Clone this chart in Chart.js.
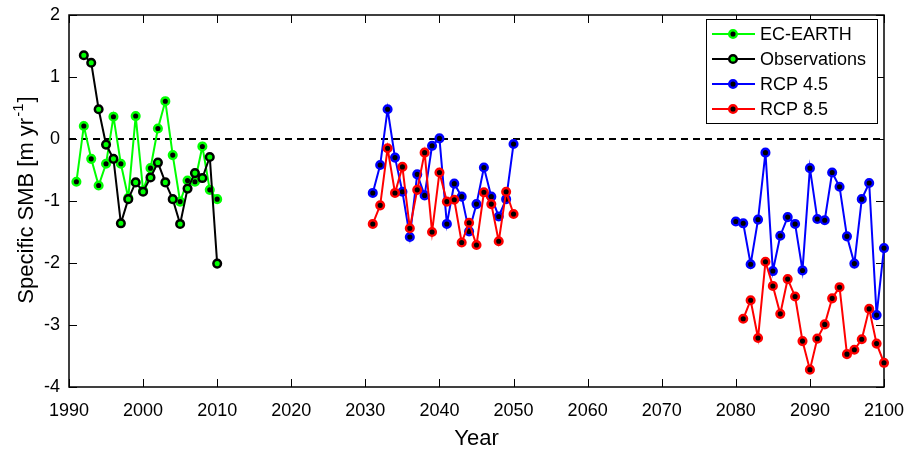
<!DOCTYPE html>
<html>
<head>
<meta charset="utf-8">
<script src="https://cdn.jsdelivr.net/npm/chart.js@4.4.1/dist/chart.umd.min.js"></script>
<style>
  html, body { margin: 0; padding: 0; background: #fff; }
  #wrap { width: 906px; height: 453px; }
</style>
</head>
<body>
<div id="wrap"><canvas id="c" width="906" height="453"></canvas></div>
<script>
// Specific surface mass balance, historical and projected
const histYears = [1991,1992,1993,1994,1995,1996,1997,1998,1999,2000,2001,2002,2003,2004,2005,2006,2007,2008,2009,2010];
const ecEarth = [-0.69,0.21,-0.32,-0.75,-0.40,0.36,-0.40,-0.95,0.37,-0.83,-0.47,0.17,0.61,-0.26,-1.01,-0.67,-0.69,-0.12,-0.82,-0.97];

const obsYears = [1992,1993,1994,1995,1996,1997,1998,1999,2000,2001,2002,2003,2004,2005,2006,2007,2008,2009,2010];
const observations = [1.35,1.23,0.48,-0.09,-0.32,-1.36,-0.97,-0.70,-0.85,-0.62,-0.38,-0.70,-0.97,-1.37,-0.80,-0.55,-0.63,-0.29,-2.01];

const midYears = [2031,2032,2033,2034,2035,2036,2037,2038,2039,2040,2041,2042,2043,2044,2045,2046,2047,2048,2049,2050];
const rcp45Mid = [-0.87,-0.42,0.48,-0.30,-0.85,-1.58,-0.57,-0.91,-0.11,0.01,-1.37,-0.72,-0.93,-1.49,-1.05,-0.46,-0.93,-1.25,-0.97,-0.08];
const rcp85Mid = [-1.37,-1.07,-0.15,-0.87,-0.45,-1.44,-0.82,-0.22,-1.50,-0.54,-1.01,-0.98,-1.67,-1.35,-1.71,-0.86,-1.05,-1.65,-0.85,-1.21];

const lateYears45 = [2080,2081,2082,2083,2084,2085,2086,2087,2088,2089,2090,2091,2092,2093,2094,2095,2096,2097,2098,2099,2100];
const rcp45Late = [-1.33,-1.36,-2.02,-1.30,-0.22,-2.13,-1.56,-1.26,-1.37,-2.12,-0.47,-1.29,-1.31,-0.54,-0.77,-1.57,-2.01,-0.97,-0.71,-2.84,-1.76];
const lateYears85 = [2081,2082,2083,2084,2085,2086,2087,2088,2089,2090,2091,2092,2093,2094,2095,2096,2097,2098,2099,2100];
const rcp85Late = [-2.90,-2.60,-3.21,-1.98,-2.37,-2.82,-2.26,-2.54,-3.26,-3.72,-3.22,-2.99,-2.57,-2.39,-3.47,-3.40,-3.23,-2.74,-3.30,-3.61];

const xTicks = [1990,2000,2010,2020,2030,2040,2050,2060,2070,2080,2090,2100];
const yTicks = [-4,-3,-2,-1,0,1,2];

const FONT = '"Liberation Sans", Arial, Helvetica, sans-serif';

function pts(years, vals) {
  return years.map((yr, i) => ({ x: yr, y: vals[i] }));
}
// a null point breaks the line between the two projection periods
function twoPeriods(y1, v1, y2, v2) {
  return pts(y1, v1).concat([{ x: 2065, y: null }], pts(y2, v2));
}

function series(label, data, line, face, edge, order) {
  return {
    label, data, order,
    borderColor: line, backgroundColor: face,
    pointBackgroundColor: face, pointBorderColor: edge,
    borderWidth: 2, pointRadius: 3.8, pointBorderWidth: 2.5,
    pointHoverRadius: 3.8, spanGaps: false, tension: 0, clip: false
  };
}

const datasets = [
  series('EC-EARTH', pts(histYears, ecEarth), '#00ff00', '#000000', '#00ff00', 4),
  series('Observations', pts(obsYears, observations), '#000000', '#00ff00', '#000000', 3),
  series('RCP 4.5', twoPeriods(midYears, rcp45Mid, lateYears45, rcp45Late), '#0000ff', '#000000', '#0000ff', 2),
  series('RCP 8.5', twoPeriods(midYears, rcp85Mid, lateYears85, rcp85Late), '#ff0000', '#000000', '#ff0000', 1)
];

// axes box, inward ticks, zero line, legend and y title
const frame = {
  id: 'frame',
  beforeDatasetsDraw(chart) {
    const { ctx, chartArea: a, scales: { x, y } } = chart;
    ctx.save();
    // dashed zero line
    const y0 = y.getPixelForValue(0);
    ctx.strokeStyle = '#000';
    ctx.lineWidth = 2;
    ctx.setLineDash([7, 5]);
    ctx.beginPath();
    ctx.moveTo(a.left, y0);
    ctx.lineTo(a.right, y0);
    ctx.stroke();
    ctx.setLineDash([]);
    // box
    ctx.lineWidth = 1.5;
    ctx.strokeRect(a.left, a.top, a.right - a.left, a.bottom - a.top);
    // inward ticks on all four sides
    const tl = 8;
    ctx.lineWidth = 1;
    ctx.beginPath();
    xTicks.forEach(v => {
      const px = Math.round(x.getPixelForValue(v)) + 0.5;
      ctx.moveTo(px, a.bottom); ctx.lineTo(px, a.bottom - tl);
      ctx.moveTo(px, a.top); ctx.lineTo(px, a.top + tl);
    });
    yTicks.forEach(v => {
      const py = Math.round(y.getPixelForValue(v)) + 0.5;
      ctx.moveTo(a.left, py); ctx.lineTo(a.left + tl, py);
      ctx.moveTo(a.right, py); ctx.lineTo(a.right - tl, py);
    });
    ctx.stroke();
    ctx.restore();
  },
  afterDraw(chart) {
    const { ctx, chartArea: a } = chart;
    ctx.save();
    // y-axis title with superscript exponent
    const cy = (a.top + a.bottom) / 2;
    ctx.translate(27, cy);
    ctx.rotate(-Math.PI / 2);
    ctx.fillStyle = '#000';
    ctx.textBaseline = 'middle';
    const main = 'Specific SMB [m yr';
    const sup = '-1';
    const tail = ']';
    ctx.font = '22px ' + FONT;
    const w1 = ctx.measureText(main).width;
    const w3 = ctx.measureText(tail).width;
    ctx.font = '15px ' + FONT;
    const w2 = ctx.measureText(sup).width;
    let sx = -(w1 + w2 + w3) / 2;
    ctx.font = '22px ' + FONT;
    ctx.textAlign = 'left';
    ctx.fillText(main, sx, 0);
    ctx.font = '15px ' + FONT;
    ctx.fillText(sup, sx + w1 + 1, -8);
    ctx.font = '22px ' + FONT;
    ctx.fillText(tail, sx + w1 + w2 + 2, 0);
    ctx.restore();

    // legend
    ctx.save();
    const bw = 171, bh = 104;
    const bx = a.right - bw - 7, by = a.top + 4;
    ctx.fillStyle = '#fff';
    ctx.fillRect(bx, by, bw, bh);
    ctx.strokeStyle = '#000';
    ctx.lineWidth = 1;
    ctx.strokeRect(bx + 0.5, by + 0.5, bw, bh);
    ctx.font = '18px ' + FONT;
    ctx.textBaseline = 'middle';
    ctx.textAlign = 'left';
    chart.data.datasets.forEach((ds, i) => {
      const ry = by + 15 + i * 25;
      ctx.strokeStyle = ds.borderColor;
      ctx.lineWidth = 2;
      ctx.beginPath();
      ctx.moveTo(bx + 6, ry);
      ctx.lineTo(bx + 49, ry);
      ctx.stroke();
      ctx.beginPath();
      ctx.arc(bx + 27, ry, 3.8, 0, Math.PI * 2);
      ctx.fillStyle = ds.pointBackgroundColor;
      ctx.fill();
      ctx.lineWidth = 2.5;
      ctx.strokeStyle = ds.pointBorderColor;
      ctx.stroke();
      ctx.fillStyle = '#000';
      ctx.fillText(ds.label, bx + 54, ry + 1);
    });
    ctx.restore();
  }
};

new Chart(document.getElementById('c'), {
  type: 'line',
  data: { datasets },
  options: {
    responsive: false,
    animation: false,
    events: [],
    layout: { padding: { left: 0, right: 22, top: 15, bottom: 0 } },
    plugins: { legend: { display: false }, tooltip: { enabled: false } },
    scales: {
      x: {
        type: 'linear',
        min: 1990, max: 2100,
        afterBuildTicks: s => { s.ticks = xTicks.map(v => ({ value: v })); },
        afterFit: s => { s.height = 66; s.paddingLeft = 0; s.paddingRight = 0; },
        grid: { display: false, drawTicks: false },
        border: { display: false },
        ticks: {
          padding: 13,
          color: '#000',
          font: { family: FONT, size: 18 },
          maxRotation: 0,
          callback: v => String(v)
        },
        title: {
          display: true,
          text: 'Year',
          color: '#000',
          font: { family: FONT, size: 22 },
          padding: { top: 0, bottom: 1 }
        }
      },
      y: {
        type: 'linear',
        min: -4, max: 2,
        afterBuildTicks: s => { s.ticks = yTicks.map(v => ({ value: v })); },
        afterFit: s => { s.width = 69; s.paddingTop = 0; s.paddingBottom = 0; },
        grid: { display: false, drawTicks: false },
        border: { display: false },
        ticks: {
          padding: 9,
          color: '#000',
          font: { family: FONT, size: 18 },
          callback: v => String(v)
        }
      }
    }
  },
  plugins: [frame]
});
</script>
</body>
</html>
